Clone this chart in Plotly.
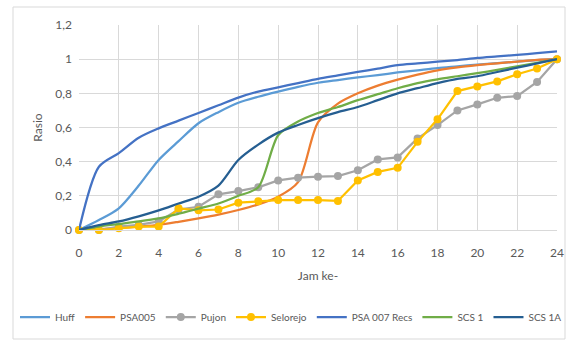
import plotly.graph_objects as go

hours = list(range(0, 25))

huff = [0, 0.058, 0.127, 0.26, 0.41, 0.52, 0.625, 0.69, 0.745, 0.78, 0.81, 0.838, 0.862, 0.878, 0.893, 0.907, 0.922, 0.935, 0.948, 0.958, 0.968, 0.977, 0.986, 0.994, 1.0]
psa005 = [0, 0.005, 0.012, 0.02, 0.03, 0.048, 0.068, 0.09, 0.117, 0.15, 0.195, 0.28, 0.63, 0.74, 0.8, 0.845, 0.88, 0.91, 0.935, 0.952, 0.965, 0.976, 0.986, 0.996, 1.0]
pujon = [0, 0, 0.02, 0.03, 0.05, 0.12, 0.136, 0.209, 0.228, 0.25, 0.29, 0.306, 0.312, 0.316, 0.35, 0.413, 0.425, 0.536, 0.614, 0.70, 0.735, 0.774, 0.784, 0.867, 1.0]
selorejo = [0, 0, 0.01, 0.02, 0.02, 0.127, 0.115, 0.12, 0.16, 0.168, 0.175, 0.175, 0.175, 0.17, 0.29, 0.34, 0.364, 0.516, 0.648, 0.813, 0.84, 0.87, 0.912, 0.945, 1.0]
psa007 = [0, 0.37, 0.45, 0.54, 0.595, 0.64, 0.685, 0.73, 0.775, 0.81, 0.835, 0.86, 0.885, 0.905, 0.925, 0.945, 0.965, 0.975, 0.985, 0.995, 1.007, 1.016, 1.025, 1.035, 1.045]
scs1 = [0, 0.02, 0.035, 0.05, 0.068, 0.095, 0.125, 0.155, 0.2, 0.25, 0.555, 0.635, 0.685, 0.72, 0.76, 0.795, 0.83, 0.86, 0.882, 0.9, 0.918, 0.937, 0.958, 0.979, 1.0]
scs1a = [0, 0.028, 0.05, 0.08, 0.115, 0.155, 0.195, 0.26, 0.41, 0.5, 0.57, 0.615, 0.655, 0.69, 0.72, 0.76, 0.8, 0.83, 0.86, 0.885, 0.9, 0.925, 0.95, 0.975, 1.0]

x_ticks = list(range(0, 25, 2))
y_ticks = [0, 0.2, 0.4, 0.6, 0.8, 1.0, 1.2]
y_tick_labels = ["0", "0,2", "0,4", "0,6", "0,8", "1", "1,2"]

series = [
    ("Huff", huff, "#5B9BD5", False),
    ("PSA005", psa005, "#ED7D31", False),
    ("Pujon", pujon, "#A5A5A5", True),
    ("Selorejo", selorejo, "#FFC000", True),
    ("PSA 007 Recs", psa007, "#4472C4", False),
    ("SCS 1", scs1, "#70AD47", False),
    ("SCS 1A", scs1a, "#255E91", False),
]

fig = go.Figure()
for name, vals, color, markers in series:
    if markers:
        fig.add_trace(go.Scatter(
            x=hours, y=vals, name=name, mode="lines+markers",
            line=dict(color=color, width=2.25),
            marker=dict(color=color, size=8),
            cliponaxis=False,
        ))
    else:
        fig.add_trace(go.Scatter(
            x=hours, y=vals, name=name, mode="lines",
            line=dict(color=color, width=2.25, shape="spline", smoothing=0.8),
            cliponaxis=False,
        ))

W, H = 577, 340
L, R, T, B = 79, 20, 25, 110
pw, ph = W - L - R, H - T - B
FONT = "Lato, Open Sans, Liberation Sans, Arial"

fig.update_layout(
    width=W, height=H,
    margin=dict(l=L, r=R, t=T, b=B, autoexpand=False),
    paper_bgcolor="white", plot_bgcolor="white",
    font=dict(family=FONT, size=12, color="#595959"),
    xaxis=dict(
        range=[0, 24], tickvals=x_ticks, showgrid=True, gridcolor="#D9D9D9", gridwidth=1,
        zeroline=False, showline=True, linecolor="#D9D9D9", ticks="",
        ticklabelstandoff=12,
        title=dict(text="Jam ke-", standoff=12, font=dict(size=12, color="#595959")),
        tickfont=dict(size=12, color="#595959"),
    ),
    yaxis=dict(
        range=[0, 1.2], tickvals=y_ticks, ticktext=y_tick_labels, showgrid=True,
        gridcolor="#D9D9D9", gridwidth=1, zeroline=False, showline=False, ticks="",
        ticklabelstandoff=6,
        title=dict(text="Rasio", standoff=10, font=dict(size=12, color="#595959")),
        tickfont=dict(size=12, color="#595959"),
    ),
    legend=dict(
        orientation="h", x=(15 - L) / pw, xanchor="left", y=(H - 317 - B) / ph, yanchor="middle",
        font=dict(size=10, color="#595959"), itemwidth=30, tracegroupgap=0,
        bgcolor="rgba(0,0,0,0)",
    ),
    showlegend=True,
)

fig.add_shape(
    type="rect", xref="paper", yref="paper",
    x0=(13 - L) / pw, x1=(565 - L) / pw, y0=(H - 339 - B) / ph, y1=(H - 7 - B) / ph,
    line=dict(color="#D9D9D9", width=1), fillcolor="rgba(0,0,0,0)", layer="below",
)

fig.write_html("out.html", config={"displayModeBar": False},
               post_script="document.body.style.margin='0';")
